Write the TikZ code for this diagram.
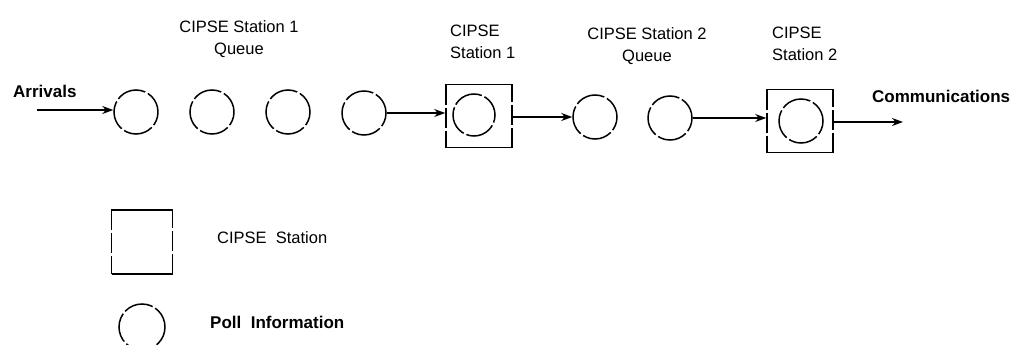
\documentclass[tikz,border=0pt]{standalone}
\usepackage{fontspec}
\setmainfont{Liberation Sans}
\usetikzlibrary{arrows.meta}
\begin{document}
\begin{tikzpicture}[x=1pt,y=-1pt,
  item/.style={circle,draw,line width=1.5pt,minimum size=44pt,inner sep=0pt,dash pattern=on 30pt off 3pt,dash phase=8pt},
  station/.style={rectangle,draw,line width=1.6pt,minimum width=66pt,minimum height=63pt,inner sep=0pt,
    dash pattern=on 86pt off 3pt on 20pt off 3pt on 103pt off 3pt on 20pt off 3pt on 17pt},
  flow/.style={-{Stealth[length=11pt,width=8pt]},line width=1.6pt},
  lbl/.style={font=\fontsize{16.5}{22}\selectfont,inner sep=0pt,align=center},
  blbl/.style={font=\fontsize{17}{20}\selectfont\bfseries,inner sep=0pt}]
\useasboundingbox (0,0) rectangle (1017,345);
% queue 1
\node[item] (q1) at (136,112) {};
\node[item] (q2) at (212,112) {};
\node[item] (q3) at (288,112) {};
\node[item] (q4) at (364,113) {};
% station 1
\node[station] (s1) at (479,116) {};
\node[item,minimum size=42pt] (c1) at (474,115) {};
% queue 2
\node[item] (q5) at (595,117) {};
\node[item] (q6) at (670,118) {};
% station 2
\node[station] (s2) at (800,121) {};
\node[item] (c2) at (801,121) {};
% arrows
\coordinate (a0) at (37,110);
\coordinate (a9) at (903,122);
\draw[flow] (a0) -- (q1.west |- a0);
\draw[flow] (q4.east) -- (s1.west |- q4.east);
\draw[flow] (s1.east |- q5.west) -- (q5.west);
\draw[flow] (q6.east) -- (s2.west |- q6.east);
\draw[flow] (s2.east |- a9) -- (a9);
% labels
\node[blbl,anchor=west] (arr) at (13,91) {Arrivals};
\node[blbl,anchor=west] (com) at (872,96) {Communications};
\node[lbl] (t1) at (239,39) {CIPSE Station 1\\Queue};
\node[lbl,align=left,anchor=west] (t2) at (450,42) {CIPSE\\Station 1};
\node[lbl] (t3) at (647,46) {CIPSE Station 2\\Queue};
\node[lbl,align=left,anchor=west] (t4) at (772,44) {CIPSE\\Station 2};
% legend
\node[station,minimum width=61pt,minimum height=64pt,
  dash pattern=on 81pt off 3pt on 20pt off 3pt on 99pt off 3pt on 20pt off 3pt on 18pt] (ls) at (142,242) {};
\node[lbl,anchor=west] (lst) at (217,238) {CIPSE\ \ Station};
\node[item,minimum size=46pt] (lc) at (142,327) {};
\node[blbl,anchor=west] (lct) at (210,322) {Poll\ \ Information};
\end{tikzpicture}
\end{document}
